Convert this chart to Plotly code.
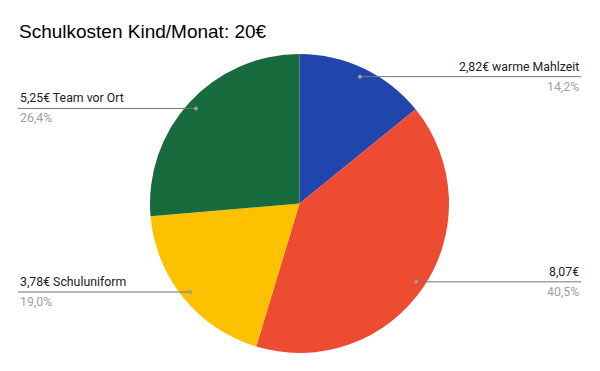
import math
import plotly.graph_objects as go

title = "Schulkosten Kind/Monat: 20€"
labels = ["warme Mahlzeit", "", "Schuluniform", "Team vor Ort"]
values = [2.82, 8.07, 3.78, 5.25]
value_text = ["2,82€", "8,07€", "3,78€", "5,25€"]
percent_text = ["14,2%", "40,5%", "19,0%", "26,4%"]
colors = ["#2046ad", "#ee4b33", "#fdc100", "#176b3d"]

W, H = 600, 371
cx, cy, R = 299.5, 203.5, 149.5

fig = go.Figure(go.Pie(
    labels=[f"{v} {l}".strip() for v, l in zip(value_text, labels)],
    values=values, sort=False, direction="clockwise", rotation=0,
    marker=dict(colors=colors, line=dict(width=0)),
    textinfo="none", hoverinfo="label+percent", showlegend=False,
    domain=dict(x=[(cx - R) / W, (cx + R) / W], y=[1 - (cy + R) / H, 1 - (cy - R) / H]),
))

def px(x):
    return x / W

def py(y):
    return 1 - y / H

total = sum(values)
cum = 0.0
shapes, annotations = [], []
for v, l, vt, pt in zip(values, labels, value_text, percent_text):
    mid = (cum + v / 2) / total * 2 * math.pi
    cum += v
    dx = cx + 0.94 * R * math.sin(mid)
    dy = cy - 0.94 * R * math.cos(mid)
    right = math.sin(mid) > 0
    edge = 581 if right else 18
    shapes.append(dict(type="line", xref="paper", yref="paper",
                       x0=px(dx), y0=py(dy), x1=px(edge), y1=py(dy),
                       line=dict(color="#757575", width=1)))
    shapes.append(dict(type="circle", xref="paper", yref="paper",
                       x0=px(dx - 2), y0=py(dy - 2), x1=px(dx + 2), y1=py(dy + 2),
                       fillcolor="#9e9e9e", line=dict(width=0)))
    anchor = "right" if right else "left"
    txt = f"{vt} {l}".strip()
    annotations.append(dict(text=txt, xref="paper", yref="paper", x=px(edge), y=py(dy - 1),
                            xanchor=anchor, yanchor="bottom", showarrow=False,
                            font=dict(family="Roboto", size=12.3, color="#222222")))
    annotations.append(dict(text=pt, xref="paper", yref="paper", x=px(edge), y=py(dy + 1),
                            xanchor=anchor, yanchor="top", showarrow=False,
                            font=dict(family="Roboto", size=12.3, color="#a0a0a0")))

annotations.append(dict(text=title, xref="paper", yref="paper", x=px(17), y=py(31),
                        xanchor="left", yanchor="middle", showarrow=False,
                        font=dict(family="Liberation Sans, Arial", size=19, color="#000000")))

fig.update_layout(width=W, height=H, margin=dict(l=0, r=0, t=0, b=0),
                  paper_bgcolor="white", plot_bgcolor="white",
                  shapes=shapes, annotations=annotations)
fig.write_html("out.html", config={"displayModeBar": False},
               post_script="document.body.style.margin='0';document.body.style.overflow='hidden';")
